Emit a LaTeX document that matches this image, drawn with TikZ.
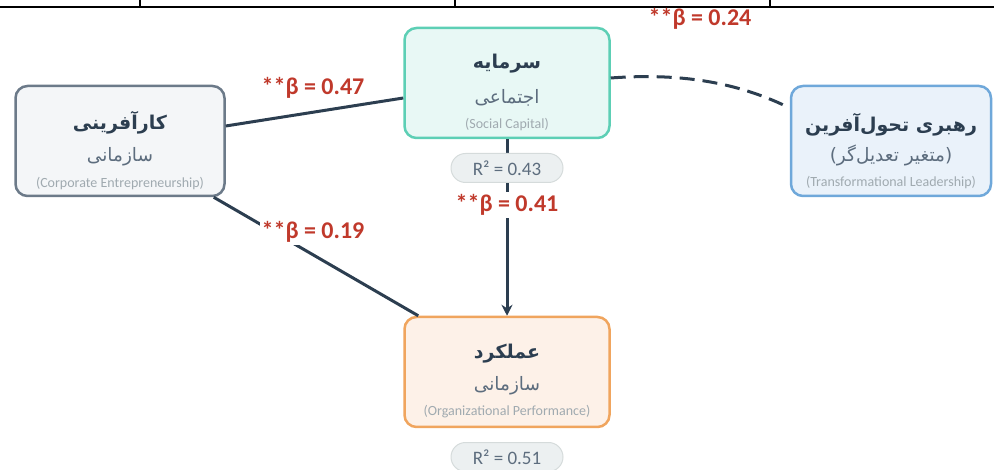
\documentclass[tikz,border=0pt]{standalone}
\usepackage{fontspec}
\setmainfont{Carlito}
\newfontfamily\fa[Script=Arabic]{DejaVu Sans}
\TeXXeTstate=1
\usetikzlibrary{arrows.meta,calc}
\definecolor{dark}{HTML}{2C3E50}
\definecolor{betared}{HTML}{C0392B}
\definecolor{ceB}{HTML}{6C7A89}\definecolor{ceF}{HTML}{F4F6F8}
\definecolor{scB}{HTML}{5DCFB5}\definecolor{scF}{HTML}{E8F8F5}
\definecolor{tlB}{HTML}{6FA8DA}\definecolor{tlF}{HTML}{EAF2FA}
\definecolor{opB}{HTML}{F0A55E}\definecolor{opF}{HTML}{FDF1E8}
\definecolor{pillF}{HTML}{ECF0F1}\definecolor{pillB}{HTML}{D5DBDB}
\definecolor{subC}{HTML}{5D6D7E}\definecolor{engC}{HTML}{A0AAB0}
\begin{document}
\begin{tikzpicture}[x=1pt,y=-1pt,
  box/.style={draw, rounded corners=12pt, line width=2.5pt, inner sep=0pt, minimum width=#1, minimum height=110pt},
  ttl/.style={text=dark, font=\fa\bfseries\fontsize{19}{21}\selectfont, inner sep=0pt},
  sub/.style={text=subC, font=\fa\fontsize{18.5}{20}\selectfont, inner sep=0pt},
  eng/.style={text=engC, font=\fontsize{14}{16}\selectfont, inner sep=0pt},
  beta/.style={text=betared, font=\bfseries\fontsize{24}{26}\selectfont, fill=white, inner sep=2pt},
  pill/.style={draw=pillB, fill=pillF, line width=1pt, rounded corners=14.5pt, minimum width=112pt, minimum height=29pt, inner sep=0pt, text=subC, font=\fontsize{19}{21}\selectfont},
  conn/.style={draw=dark, line width=3pt}
]
\useasboundingbox (0,0) rectangle (994,470);
% cropped table border at the top
\draw[line width=1.6pt] (0,7) -- (994,7);
\foreach \xx in {140,455,770} \draw[line width=1.6pt] (\xx,0) -- (\xx,7);

% boxes
\node[box=209pt, draw=ceB, fill=ceF] (ce) at (120,141) {};
\node[box=205pt, draw=scB, fill=scF] (sc) at (507,83) {};
\node[box=200pt, draw=tlB, fill=tlF] (tl) at (891,141) {};
\node[box=205pt, draw=opB, fill=opF] (op) at (507,372) {};

% box texts
\node[ttl] (ceT) at (120,123) {\beginR کارآفرینی\endR};
\node[sub] (ceS) at (120,157) {\beginR سازمانی\endR};
\node[eng] (ceE) at (120,184) {(Corporate Entrepreneurship)};

\node[ttl] (scT) at (507,64) {\beginR سرمایه\endR};
\node[sub] (scS) at (507,98) {\beginR اجتماعی\endR};
\node[eng] (scE) at (507,125) {(Social Capital)};

\node[ttl] (tlT) at (891,125) {\beginR رهبری تحول‌آفرین\endR};
\node[sub] (tlS) at (891,155) {\beginR(متغیر تعدیل‌گر)\endR};
\node[eng] (tlE) at (891,183) {(Transformational Leadership)};

\node[ttl] (opT) at (507,354) {\beginR عملکرد\endR};
\node[sub] (opS) at (507,386) {\beginR سازمانی\endR};
\node[eng] (opE) at (507,412) {(Organizational Performance)};

% connectors
\draw[conn] ([yshift=15pt]ce.east) -- ([yshift=-15pt]sc.west);
\draw[conn] ([xshift=-12pt]ce.south east) -- ([xshift=15pt]op.north west);
\draw[conn, -{Stealth[length=11pt,width=11pt]}] (sc.south) -- (op.north);
\draw[conn, dashed, dash pattern=on 15pt off 8pt] ([yshift=5pt]sc.east) .. controls (690,72) and (745,86) .. ([yshift=33pt]tl.west);

% labels
\node[beta] (b1) at (313,88) {**β = 0.47};
\node[beta] (b2) at (313,232) {**β = 0.19};
\node[beta] (b3) at (507,205) {**β = 0.41};
\node[beta, fill=none] (b4) at (700,19) {**β = 0.24};

% R^2 pills
\node[pill] (r1) at (507,168) {R² = 0.43};
\node[pill] (r2) at (507,457) {R² = 0.51};
\end{tikzpicture}
\end{document}
